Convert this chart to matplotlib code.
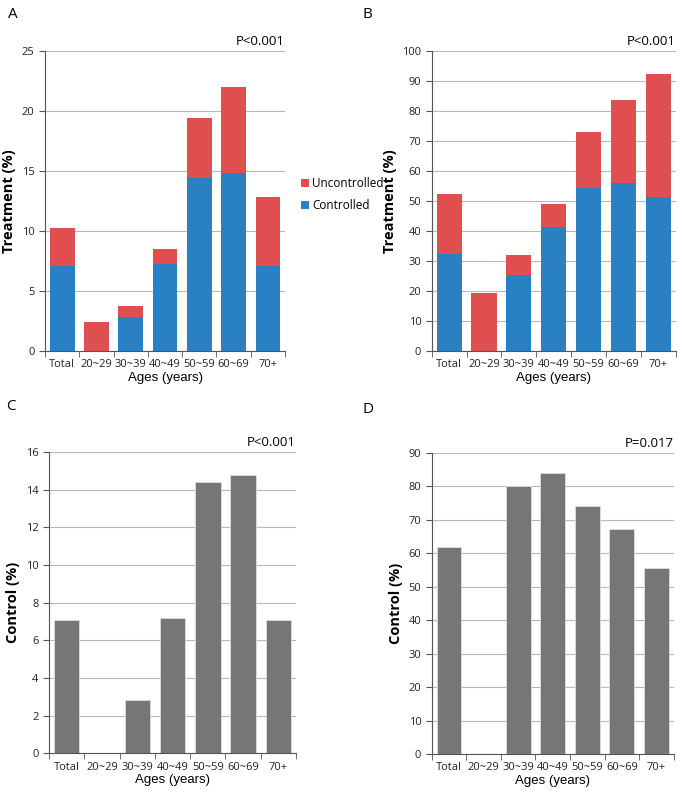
import numpy as np
import matplotlib.pyplot as plt

plt.rcParams['font.family'] = ['Open Sans', 'DejaVu Sans']

ages = ['Total', '20~29', '30~39', '40~49', '50~59', '60~69', '70+']

# panel A: treatment among all (%)
a_controlled = [7.1, 0, 2.8, 7.2, 14.4, 14.8, 7.1]
a_total = [10.2, 2.4, 3.7, 8.5, 19.4, 22.0, 12.8]

# panel B: treatment among aware (%)
b_controlled = [32.3, 0, 25.4, 41.1, 54.2, 55.9, 51.1]
b_total = [52.3, 19.2, 31.9, 49.0, 73.0, 83.5, 92.1]

# panel C / D: control (%)
c_control = [7.1, 0, 2.85, 7.2, 14.4, 14.8, 7.1]
d_control = [61.8, 0, 80.0, 84.1, 74.2, 67.2, 55.7]

blue = '#2980c3'
red = '#df4f4f'
gray = '#767676'

fig = plt.figure(figsize=(6.82, 7.92), dpi=100)


def style_axes(ax, ymax, step, pval, ylabel):
    x = np.arange(len(ages))
    ax.set_xlim(-0.5, len(ages) - 0.5)
    ax.set_ylim(0, ymax)
    ax.set_yticks(np.arange(0, ymax + step / 2, step))
    ax.set_xticks(x)
    ax.set_xticklabels(ages)
    ax.set_xticks(np.arange(-0.5, len(ages)), minor=True)
    ax.tick_params(axis='x', which='major', length=0, labelsize=8, pad=6, colors='#222222')
    ax.tick_params(axis='x', which='minor', length=4, color='#555555', direction='out')
    ax.tick_params(axis='y', length=4, color='#555555', labelsize=8, colors='#222222')
    for s in ['top', 'right']:
        ax.spines[s].set_visible(False)
    for s in ['left', 'bottom']:
        ax.spines[s].set_color('#555555')
        ax.spines[s].set_linewidth(0.8)
    ax.yaxis.grid(True, color='#b8b8b8', linewidth=0.8)
    ax.set_axisbelow(True)
    ax.set_ylabel(ylabel, fontsize=10.5, fontweight='bold', labelpad=4)
    ax.set_xlabel('Ages (years)', fontsize=9.5, labelpad=1, family=['Liberation Sans', 'DejaVu Sans'])
    ax.text(1.0, 1.01, pval, transform=ax.transAxes, ha='right', va='bottom', fontsize=9.5)
    return x


# A
axA = fig.add_axes([0.066, 0.557, 0.352, 0.379])
x = style_axes(axA, 25, 5, 'P<0.001', 'Treatment (%)')
a_unc = np.array(a_total) - np.array(a_controlled)
axA.bar(x, a_controlled, width=0.72, color=blue, label='Controlled')
axA.bar(x, a_unc, bottom=a_controlled, width=0.72, color=red, label='Uncontrolled')
h, l = axA.get_legend_handles_labels()
axA.legend(h[::-1], l[::-1], loc='center left', bbox_to_anchor=(1.02, 0.52), frameon=False,
           fontsize=8.5, handlelength=0.7, handleheight=0.7, handletextpad=0.3, labelspacing=0.8)

# B
axB = fig.add_axes([0.633, 0.557, 0.358, 0.379])
x = style_axes(axB, 100, 10, 'P<0.001', 'Treatment (%)')
b_unc = np.array(b_total) - np.array(b_controlled)
axB.bar(x, b_controlled, width=0.72, color=blue)
axB.bar(x, b_unc, bottom=b_controlled, width=0.72, color=red)

# C
axC = fig.add_axes([0.072, 0.049, 0.362, 0.380])
x = style_axes(axC, 16, 2, 'P<0.001', 'Control (%)')
axC.bar(x, c_control, width=0.72, color=gray, edgecolor='#dddddd', linewidth=0.6)

# D
axD = fig.add_axes([0.633, 0.048, 0.355, 0.380])
x = style_axes(axD, 90, 10, 'P=0.017', 'Control (%)')
axD.bar(x, d_control, width=0.72, color=gray, edgecolor='#dddddd', linewidth=0.6)

fig.text(8 / 682, 1 - 14 / 792, 'A', fontsize=11, va='center')
fig.text(363 / 682, 1 - 14 / 792, 'B', fontsize=11, va='center')
fig.text(6 / 682, 1 - 407 / 792, 'C', fontsize=11, va='center')
fig.text(363 / 682, 1 - 410 / 792, 'D', fontsize=11, va='center')

fig.savefig('out.png', dpi=100)
